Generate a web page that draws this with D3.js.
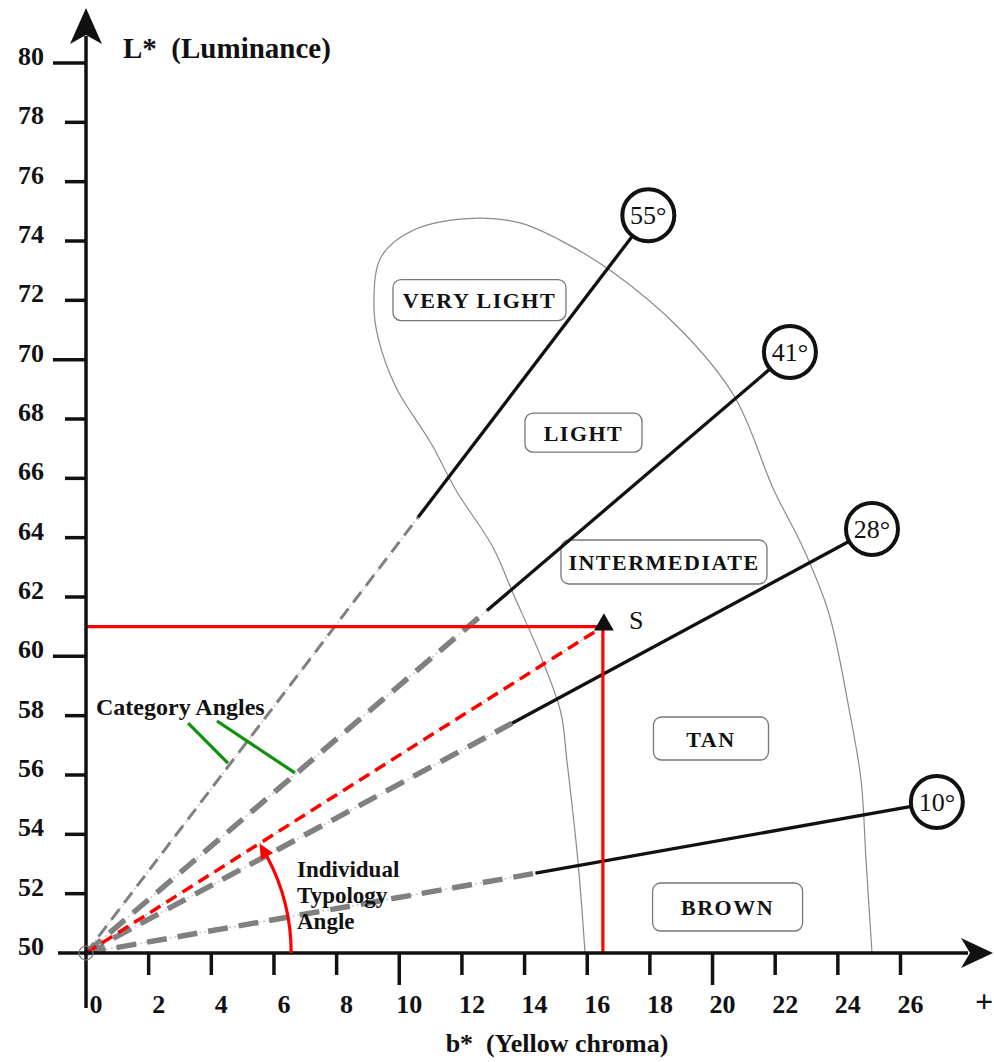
<!DOCTYPE html>
<html>
<head>
<meta charset="utf-8">
<script src="https://cdn.jsdelivr.net/npm/d3@7"></script>
<style>
  html, body { margin: 0; padding: 0; background: #fff; }
  svg { display: block; }
  text { font-family: "Liberation Serif", "Times New Roman", serif; fill: #111; white-space: pre; }
</style>
</head>
<body>
<svg id="chart" width="994" height="1062"></svg>
<script>
// ---------------- data ----------------
const xTicks = [0, 2, 4, 6, 8, 10, 12, 14, 16, 18, 20, 22, 24, 26];
const xTickLabels = ["0", "2", "4", "6", "8", "10", "12", "14", "16", "18", "20", "22", "24", "26"];
const xOpenEndLabel = "+";
const yTicks = [50, 52, 54, 56, 58, 60, 62, 64, 66, 68, 70, 72, 74, 76, 78, 80];
const yTickLabels = ["50", "52", "54", "56", "58", "60", "62", "64", "66", "68", "70", "72", "74", "76", "78", "80"];
const yMajorTicks = [60, 70, 80];
const xLongTicks = [10, 20];

const xTitle = "b*  (Yellow chroma)";
const yTitle = "L*  (Luminance)";

// category angle lines (from origin b*=0, L*=50)
const categoryAngles = [55, 41, 28, 10];
const categoryEndB = [17.95, 22.47, 25.09, 27.16];
const categoryEndL = [74.87, 70.26, 64.29, 55.09];
const categoryDashEndB = [10.6, 12.8, 13.6, 14.35];   // where the solid part starts

// regions
const regionNames = ["VERY LIGHT", "LIGHT", "INTERMEDIATE", "TAN", "BROWN"];
const regionB = [12.56, 15.88, 18.45, 19.95, 20.48];
const regionL = [72.01, 67.54, 63.18, 57.23, 51.55];

// sample range boundary (arch)
const boundaryB = [15.93, 15.70, 15.35, 15.16, 14.59, 13.63, 12.99, 11.81, 11.01, 9.89, 9.32, 9.19, 9.42, 10.46, 12.51, 13.88, 15.13, 16.72, 18.99, 20.71, 21.96, 22.88, 23.71, 24.38, 24.74, 24.90, 25.09];
const boundaryL = [50.00, 53.13, 56.50, 58.09, 59.81, 62.13, 63.68, 65.60, 67.19, 69.08, 70.76, 71.91, 73.46, 74.37, 74.77, 74.60, 74.03, 73.02, 71.00, 68.74, 65.60, 63.68, 61.46, 58.09, 55.83, 53.13, 50.00];

// sample S
const sampleName = "S";
const sampleB = 16.5;
const sampleL = 61.0;

// annotations
const categoryNote = "Category Angles";
const categoryNoteStartB = [3.26, 4.18];
const categoryNoteStartL = [57.75, 57.82];
const categoryNoteEndB = [4.53, 6.67];
const categoryNoteEndL = [56.40, 56.07];
const typologyNote = ["Individual", "Typology", "Angle"];
const typologyArcRadiusB = 6.55;

// ---------------- layout / style ----------------
const W = 994, H = 1062;
const regionBoxW = [173, 117, 206, 115, 150];
const regionBoxH = [41, 39, 44, 43, 48];

const svg = d3.select("#chart");
svg.append("rect").attr("width", W).attr("height", H).attr("fill", "#fff");

const x = d3.scaleLinear().domain([0, 26]).range([86, 900.5]);
const y = d3.scaleLinear().domain([50, 80]).range([953, 63]);
const ox = x(0), oy = y(50);

// ---- boundary arch ----
const bpts = boundaryB.map((b, i) => [x(b), y(boundaryL[i])]);
svg.append("path")
  .attr("d", d3.line().curve(d3.curveCatmullRom.alpha(0.5))(bpts))
  .attr("fill", "none").attr("stroke", "#8a8a8a").attr("stroke-width", 1.2);

// ---- region boxes ----
const rg = svg.append("g");
regionNames.forEach((n, i) => {
  const cx = x(regionB[i]), cy = y(regionL[i]);
  rg.append("rect")
    .attr("x", cx - regionBoxW[i] / 2).attr("y", cy - regionBoxH[i] / 2)
    .attr("width", regionBoxW[i]).attr("height", regionBoxH[i])
    .attr("rx", 8).attr("fill", "#fff").attr("stroke", "#777").attr("stroke-width", 1.3);
  rg.append("text").text(n)
    .attr("x", cx).attr("y", cy + 8)
    .attr("text-anchor", "middle")
    .attr("font-weight", "bold").attr("font-size", 22)
    .attr("letter-spacing", 1.5);
});

// ---- category lines: dashed part ----
const lineG = svg.append("g");
categoryAngles.forEach((a, i) => {
  const eb = categoryEndB[i], el = categoryEndL[i];
  const db = categoryDashEndB[i];
  const dl = 50 + (el - 50) * db / eb;
  const thin = i === 0;
  lineG.append("line")
    .attr("x1", ox).attr("y1", oy).attr("x2", x(db)).attr("y2", y(dl))
    .attr("stroke", "#c4c4c4").attr("stroke-width", 1.4).attr("stroke-dasharray", "2,3");
  lineG.append("line")
    .attr("x1", ox).attr("y1", oy).attr("x2", x(db)).attr("y2", y(dl))
    .attr("stroke", "#808080").attr("stroke-width", thin ? 3 : 5.5)
    .attr("stroke-dasharray", thin ? "13,8" : "20,11");
});

// ---- red guide lines ----
const sx = x(sampleB), sy = y(sampleL);
svg.append("line").attr("x1", ox).attr("y1", sy).attr("x2", sx).attr("y2", sy)
  .attr("stroke", "#ff0000").attr("stroke-width", 3.2);
svg.append("line").attr("x1", sx).attr("y1", sy).attr("x2", sx).attr("y2", oy)
  .attr("stroke", "#ff0000").attr("stroke-width", 3.2);
svg.append("line").attr("x1", ox).attr("y1", oy).attr("x2", sx).attr("y2", sy)
  .attr("stroke", "#c4c4c4").attr("stroke-width", 1.4).attr("stroke-dasharray", "2,3");
svg.append("line").attr("x1", ox).attr("y1", oy).attr("x2", sx).attr("y2", sy)
  .attr("stroke", "#ff0000").attr("stroke-width", 3.5).attr("stroke-dasharray", "12,7");

// ---- category lines: solid part + circles ----
categoryAngles.forEach((a, i) => {
  const eb = categoryEndB[i], el = categoryEndL[i];
  const db = categoryDashEndB[i];
  const dl = 50 + (el - 50) * db / eb;
  lineG.append("line")
    .attr("x1", x(db)).attr("y1", y(dl)).attr("x2", x(eb)).attr("y2", y(el))
    .attr("stroke", "#111").attr("stroke-width", 3.3);
});
categoryAngles.forEach((a, i) => {
  const cx = x(categoryEndB[i]), cy = y(categoryEndL[i]);
  lineG.append("circle").attr("cx", cx).attr("cy", cy).attr("r", 26)
    .attr("fill", "#fff").attr("stroke", "#111").attr("stroke-width", 4);
  lineG.append("text").text(a + "°")
    .attr("x", cx).attr("y", cy + 9)
    .attr("text-anchor", "middle").attr("font-size", 26);
});

// ---- axes ----
const ax = svg.append("g").attr("stroke", "#111").attr("stroke-width", 3.5).attr("fill", "none");
ax.append("line").attr("x1", ox).attr("y1", oy + 55).attr("x2", ox).attr("y2", 36);
ax.append("line").attr("x1", ox - 28).attr("y1", oy).attr("x2", 968).attr("y2", oy);
yTicks.forEach(v => {
  const major = yMajorTicks.includes(v);
  if (v === 50) return;
  ax.append("line").attr("x1", major ? ox - 33 : ox - 21).attr("x2", ox)
    .attr("y1", y(v)).attr("y2", y(v));
});
xTicks.forEach(v => {
  if (v === 0) return;
  ax.append("line").attr("x1", x(v)).attr("x2", x(v))
    .attr("y1", oy).attr("y2", oy + (xLongTicks.includes(v) ? 32 : 22));
});
// arrowheads
svg.append("path")
  .attr("d", `M${ox},8 L${ox + 16},44 L${ox},35 L${ox - 16},44 Z`)
  .attr("fill", "#111");
svg.append("path")
  .attr("d", `M993,${oy} L961,${oy - 15} L970,${oy} L961,${oy + 15} Z`)
  .attr("fill", "#111");
// origin circle
svg.append("circle").attr("cx", ox).attr("cy", oy).attr("r", 7)
  .attr("fill", "none").attr("stroke", "#777").attr("stroke-width", 1.2);

// tick labels
const tl = svg.append("g").attr("font-weight", "bold").attr("font-size", 26);
yTicks.forEach((v, i) => {
  tl.append("text").text(yTickLabels[i])
    .attr("x", 44).attr("y", y(v) + 2).attr("text-anchor", "end");
});
xTicks.forEach((v, i) => {
  tl.append("text").text(xTickLabels[i])
    .attr("x", x(v) + 10).attr("y", 1013).attr("text-anchor", "middle");
});
tl.append("text").text(xOpenEndLabel).attr("x", 984).attr("y", 1012)
  .attr("text-anchor", "middle").attr("font-size", 32);

// axis titles
svg.append("text").text(yTitle).attr("x", 123).attr("y", 58)
  .attr("font-weight", "bold").attr("font-size", 29);
svg.append("text").text(xTitle).attr("x", 557).attr("y", 1052)
  .attr("text-anchor", "middle")
  .attr("font-weight", "bold").attr("font-size", 26);

// ---- sample marker ----
svg.append("path")
  .attr("d", d3.symbol(d3.symbolTriangle, 170)())
  .attr("transform", `translate(${sx + 1},${sy - 2})`)
  .attr("fill", "#111");
svg.append("text").text(sampleName).attr("x", sx + 26).attr("y", sy + 2)
  .attr("font-size", 26);

// ---- category annotation ----
svg.append("text").text(categoryNote).attr("x", 96).attr("y", 715)
  .attr("font-weight", "bold").attr("font-size", 24);
categoryNoteStartB.forEach((b, i) => {
  svg.append("line")
    .attr("x1", x(b)).attr("y1", y(categoryNoteStartL[i]))
    .attr("x2", x(categoryNoteEndB[i])).attr("y2", y(categoryNoteEndL[i]))
    .attr("stroke", "#12900f").attr("stroke-width", 3.2);
});

// ---- typology angle arc ----
const r = x(typologyArcRadiusB) - ox;
const thetaS = Math.atan2(oy - sy, sx - ox);
const head = 15;
const delta = head / r;
const p = d3.path();
p.arc(ox, oy, r, 0, -(thetaS - delta), true);
svg.append("path").attr("d", p.toString())
  .attr("fill", "none").attr("stroke", "#ff0000").attr("stroke-width", 3.2);
const T = [ox + r * Math.cos(-thetaS), oy + r * Math.sin(-thetaS)];
const B = [ox + r * Math.cos(-(thetaS - delta)), oy + r * Math.sin(-(thetaS - delta))];
const dx = T[0] - B[0], dy = T[1] - B[1], len = Math.hypot(dx, dy);
const nx = -dy / len * 7, ny = dx / len * 7;
svg.append("path")
  .attr("d", `M${T[0]},${T[1]} L${B[0] + nx},${B[1] + ny} L${B[0] - nx},${B[1] - ny} Z`)
  .attr("fill", "#ff0000");

typologyNote.forEach((t, i) => {
  svg.append("text").text(t).attr("x", 297).attr("y", 877 + i * 26)
    .attr("font-weight", "bold").attr("font-size", 23);
});
</script>
</body>
</html>
